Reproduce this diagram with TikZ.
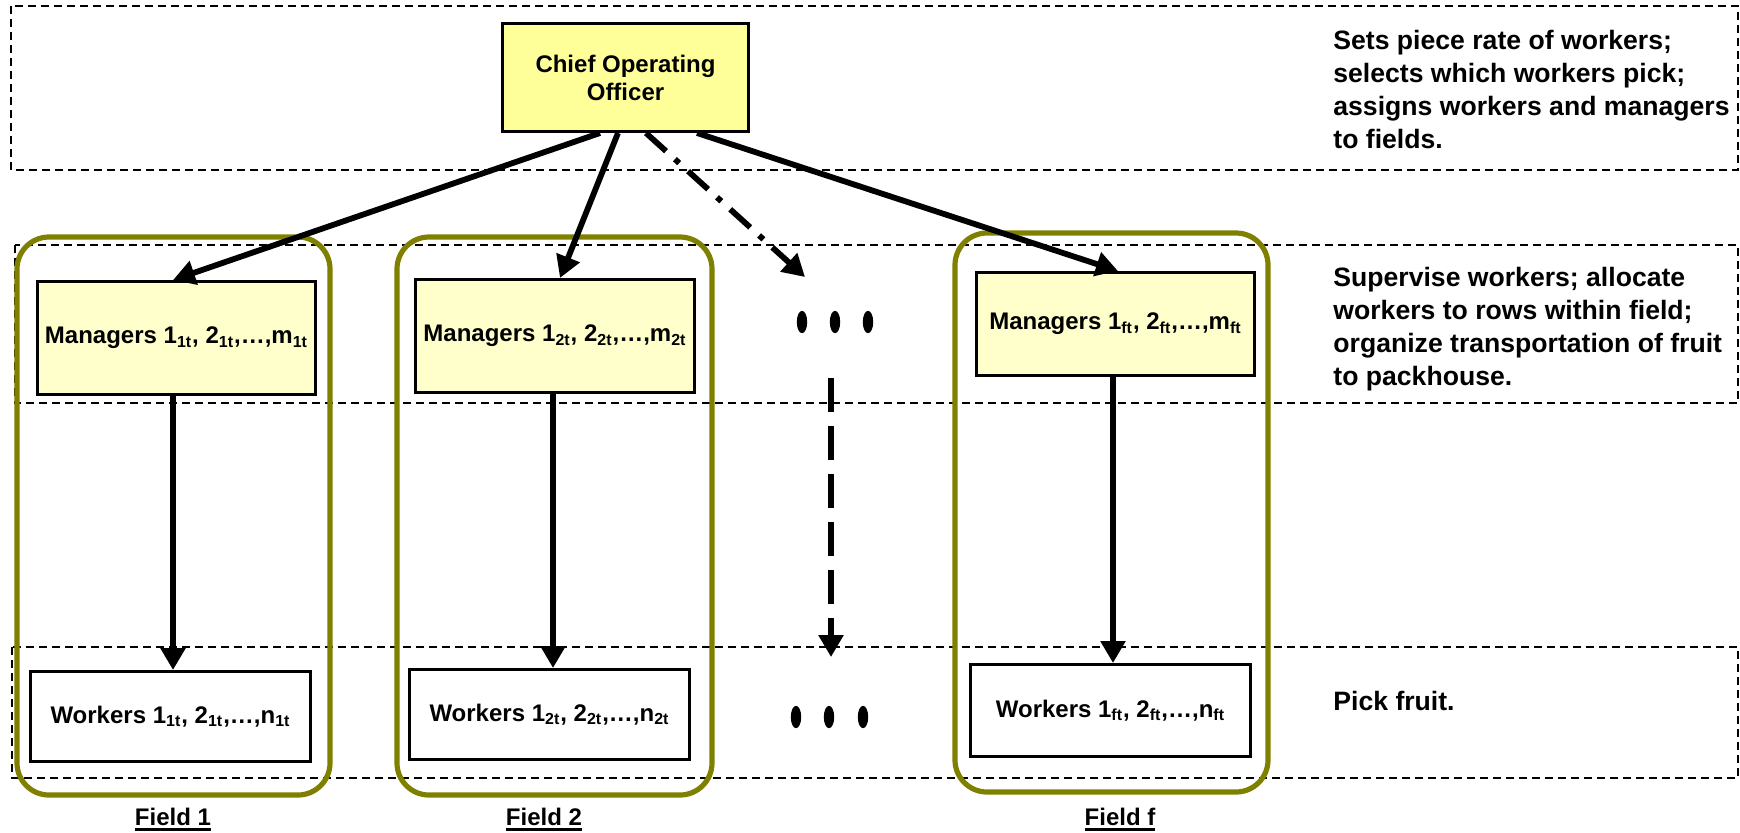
\documentclass[tikz,border=0pt]{standalone}
\usepackage{fontspec}
\setmainfont{Liberation Sans}
\usetikzlibrary{arrows.meta,calc}
\definecolor{cooyellow}{HTML}{FFFF99}
\definecolor{mgryellow}{HTML}{FFFFCC}
\definecolor{fieldolive}{HTML}{808000}
\newcommand{\fieldul}[1]{{\setbox0\hbox{#1}\rlap{\rule[-3pt]{\wd0}{1.4pt}}\box0}}
\newcommand{\sbx}[1]{\textsubscript{#1}}
\begin{document}
\begin{tikzpicture}[x=0.5pt,y=-0.5pt,
  band/.style={draw, line width=0.6pt, dash pattern=on 4pt off 2.5pt},
  fieldbox/.style={draw=fieldolive, line width=2.6pt, rounded corners=16pt},
  box/.style={draw, line width=1.5pt, inner sep=0pt, align=center,
    font=\fontsize{12pt}{14pt}\selectfont\bfseries},
  coobox/.style={box, fill=cooyellow},
  mgrbox/.style={box, fill=mgryellow},
  wrkbox/.style={box, fill=white},
  conn/.style={line width=2.9pt, -{Triangle[length=11pt,width=12pt]}},
  desc/.style={anchor=base west, inner sep=0pt, align=left,
    font=\fontsize{13.3pt}{16.5pt}\selectfont\bfseries},
  fieldlabel/.style={anchor=base, inner sep=0pt,
    font=\fontsize{12pt}{14pt}\selectfont\bfseries},
  dots/.style={fill=black, x radius=2.6pt, y radius=5.6pt}
]
\useasboundingbox (0,0) rectangle (1740,832);

% dashed bands
\draw[band] (11,6) rectangle (1738,170);
\draw[band] (15,245) rectangle (1738,403);
\draw[band] (12,647) rectangle (1738,778);

% field frames
\draw[fieldbox] (17,237) rectangle (330,795);
\draw[fieldbox] (397,237) rectangle (712,795);
\draw[fieldbox] (955,233) rectangle (1268,792);

% boxes
\node[coobox, minimum width=123pt, minimum height=54pt] (coo) at (625.5,77.5)
  {Chief Operating\\Officer};
\node[mgrbox, minimum width=139pt, minimum height=56.5pt] (m1) at (176.5,338)
  {Managers 1\sbx{1t}, 2\sbx{1t},…,m\sbx{1t}};
\node[wrkbox, minimum width=140pt, minimum height=45pt] (w1) at (170.5,716.5)
  {Workers 1\sbx{1t}, 2\sbx{1t},…,n\sbx{1t}};
\node[mgrbox, minimum width=139.5pt, minimum height=56.5pt] (m2) at (555,336)
  {Managers 1\sbx{2t}, 2\sbx{2t},…,m\sbx{2t}};
\node[wrkbox, minimum width=140pt, minimum height=45pt] (w2) at (549.5,714.5)
  {Workers 1\sbx{2t}, 2\sbx{2t},…,n\sbx{2t}};
\node[mgrbox, minimum width=139pt, minimum height=51.5pt] (mf) at (1115.5,324)
  {Managers 1\sbx{ft}, 2\sbx{ft},…,m\sbx{ft}};
\node[wrkbox, minimum width=140pt, minimum height=46pt] (wf) at (1110.5,710.5)
  {Workers 1\sbx{ft}, 2\sbx{ft},…,n\sbx{ft}};

% field labels
\node[fieldlabel] (f1) at (173,825) {\fieldul{Field 1}};
\node[fieldlabel] (f2) at (544,825) {\fieldul{Field 2}};
\node[fieldlabel] (ff) at (1120,825) {\fieldul{Field f}};

% descriptions (base anchor = last line baseline)
\node[desc] (d1) at (1333,148) {Sets piece rate of workers;\\selects which workers pick;\\assigns workers and managers\\to fields.};
\node[desc] (d2) at (1333,385) {Supervise workers; allocate\\workers to rows within field;\\organize transportation of fruit\\to packhouse.};
\node[desc] (d3) at (1333,710) {Pick fruit.};

% ellipsis dots
\fill[dots] (802,322) ellipse [];
\fill[dots] (835,322) ellipse [];
\fill[dots] (868,322) ellipse [];
\fill[dots] (796,717) ellipse [];
\fill[dots] (829,717) ellipse [];
\fill[dots] (863,717) ellipse [];

% connectors
\draw[conn] ($(coo.south)+(-25.5,0)$) -- ($(m1.north)+(-3.5,0)$);
\draw[conn] ($(coo.south)+(-7.5,0)$) -- ($(m2.north)+(5,0)$);
\draw[conn] ($(coo.south)+(71.5,0)$) -- ($(mf.north)+(2.5,0)$);
\coordinate (dashend) at (805,277);
\draw[conn, dash pattern=on 13.5pt off 6pt on 2.9pt off 6pt] ($(coo.south)+(20.5,0)$) -- (dashend);

\draw[conn] ($(m1.south)+(-3.5,0)$) -- ($(w1.north)+(2.5,0)$);
\draw[conn] ($(m2.south)+(-2,0)$) -- ($(w2.north)+(3.5,0)$);
\draw[conn] ($(mf.south)+(-2.5,0)$) -- ($(wf.north)+(2.5,0)$);
\coordinate (vdashstart) at (831,378);
\coordinate (vdashend) at (831,657);
\draw[conn, dash pattern=on 17pt off 7pt] (vdashstart) -- (vdashend);
\end{tikzpicture}
\end{document}
